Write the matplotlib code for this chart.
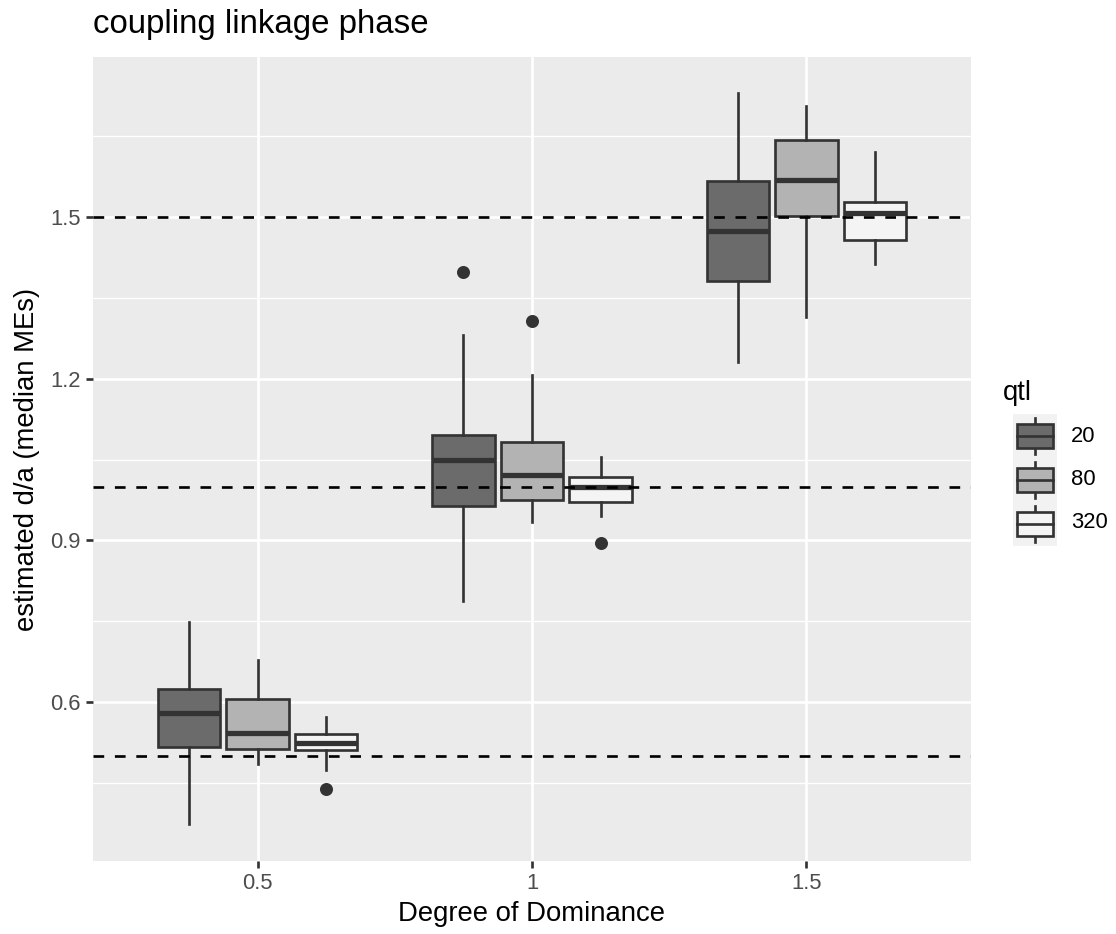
"""Boxplots of estimated d/a by degree of dominance and number of QTL (ggplot look)."""

import matplotlib
matplotlib.use("Agg")
import matplotlib.pyplot as plt
from matplotlib.patches import Rectangle

plt.rcParams["font.family"] = ["Liberation Sans", "DejaVu Sans"]

W, H, DPI = 1116, 934, 180

dominance = ["0.5", "1", "1.5"]
qtl = ["20", "80", "320"]
true_da = [0.5, 1.0, 1.5]
fills = ["#6b6b6b", "#b3b3b3", "#f4f4f4"]

# rows: dominance level, columns: qtl (20, 80, 320)
whis_lo = [[0.375, 0.485, 0.474], [0.788, 0.935, 0.945], [1.231, 1.314, 1.412]]
q1 = [[0.517, 0.514, 0.511], [0.964, 0.975, 0.972], [1.381, 1.502, 1.457]]
med = [[0.581, 0.543, 0.525], [1.049, 1.022, 0.999], [1.473, 1.568, 1.507]]
q3 = [[0.625, 0.606, 0.541], [1.095, 1.083, 1.018], [1.567, 1.643, 1.527]]
whis_hi = [[0.749, 0.678, 0.572], [1.280, 1.207, 1.054], [1.729, 1.706, 1.620]]
fliers = [[[], [], [0.440]], [[1.397], [1.306], [0.896]], [[], [], []]]

EDGE = "#333333"
LW = 1.07


def px(x, y):
    return x / W, 1 - y / H


fig = plt.figure(figsize=(W / DPI, H / DPI), dpi=DPI)
l, b = px(93, 861)
r, t = px(971, 57)
ax = fig.add_axes([l, b, r - l, t - b])
ax.set_facecolor("#ebebeb")
for s in ax.spines.values():
    s.set_visible(False)

for j, q in enumerate(qtl):
    stats, pos = [], []
    for i in range(len(dominance)):
        stats.append(dict(med=med[i][j], q1=q1[i][j], q3=q3[i][j],
                          whislo=whis_lo[i][j], whishi=whis_hi[i][j],
                          fliers=fliers[i][j]))
        pos.append(i + 1 + (j - 1) * 0.25)
    ax.bxp(stats, positions=pos, widths=0.228, patch_artist=True,
           showcaps=False, manage_ticks=False, zorder=2,
           boxprops=dict(facecolor=fills[j], edgecolor=EDGE, linewidth=LW),
           medianprops=dict(color=EDGE, linewidth=2.1),
           whiskerprops=dict(color=EDGE, linewidth=LW),
           flierprops=dict(marker="o", markerfacecolor=EDGE,
                           markeredgecolor=EDGE, markersize=4.2))

for v in true_da:
    ax.axhline(v, color="black", linewidth=LW, linestyle=(0, (4, 4)), zorder=3)

ax.set_xlim(0.4, 3.6)
ax.set_ylim(0.306, 1.796)
ax.set_xticks([1, 2, 3])
ax.set_xticklabels(dominance)
ax.set_yticks([0.6, 0.9, 1.2, 1.5])
ax.set_yticklabels(["0.6", "0.9", "1.2", "1.5"])
ax.set_yticks([0.45, 0.75, 1.05, 1.35, 1.65], minor=True)
ax.set_axisbelow(True)
ax.grid(True, which="major", color="white", linewidth=LW)
ax.grid(True, which="minor", axis="y", color="white", linewidth=0.53)
ax.tick_params(which="major", length=2.75, width=LW, color=EDGE,
               labelcolor="#4d4d4d", labelsize=8.8, pad=2.2)
ax.tick_params(which="minor", length=0)

fig.text(*px(93, 33), "coupling linkage phase", fontsize=13.2,
         ha="left", va="baseline")
fig.text(*px(532, 914), "Degree of Dominance", fontsize=11,
         ha="center", va="center")
fig.text(*px(27, 459), "estimated d/a (median MEs)", fontsize=11,
         ha="center", va="center", rotation=90)

# legend drawn as a small key axes
fig.text(*px(1003, 393), "qtl", fontsize=11, ha="left", va="center")
kl, kb = px(1013, 546)
kr, kt = px(1057, 414)
lax = fig.add_axes([kl, kb, kr - kl, kt - kb])
lax.set_xlim(0, 1)
lax.set_ylim(0, 3)
lax.axis("off")
lax.add_patch(Rectangle((0, 0), 1, 3, facecolor="#f2f2f2", edgecolor="none",
                        zorder=0))
for j, q in enumerate(qtl):
    y0 = 2 - j
    lax.plot([0.5, 0.5], [y0 + 0.09, y0 + 0.91], color=EDGE, linewidth=LW,
             zorder=1)
    lax.add_patch(Rectangle((0.09, y0 + 0.227), 0.82, 0.546,
                            facecolor=fills[j], edgecolor=EDGE, linewidth=LW,
                            zorder=2))
    lax.plot([0.09, 0.91], [y0 + 0.5, y0 + 0.5], color=EDGE, linewidth=LW,
             zorder=3)
    fig.text(*px(1071, 436 + j * 43.5), q, fontsize=8.8, ha="left", va="center")

fig.savefig("out.png", dpi=DPI)
